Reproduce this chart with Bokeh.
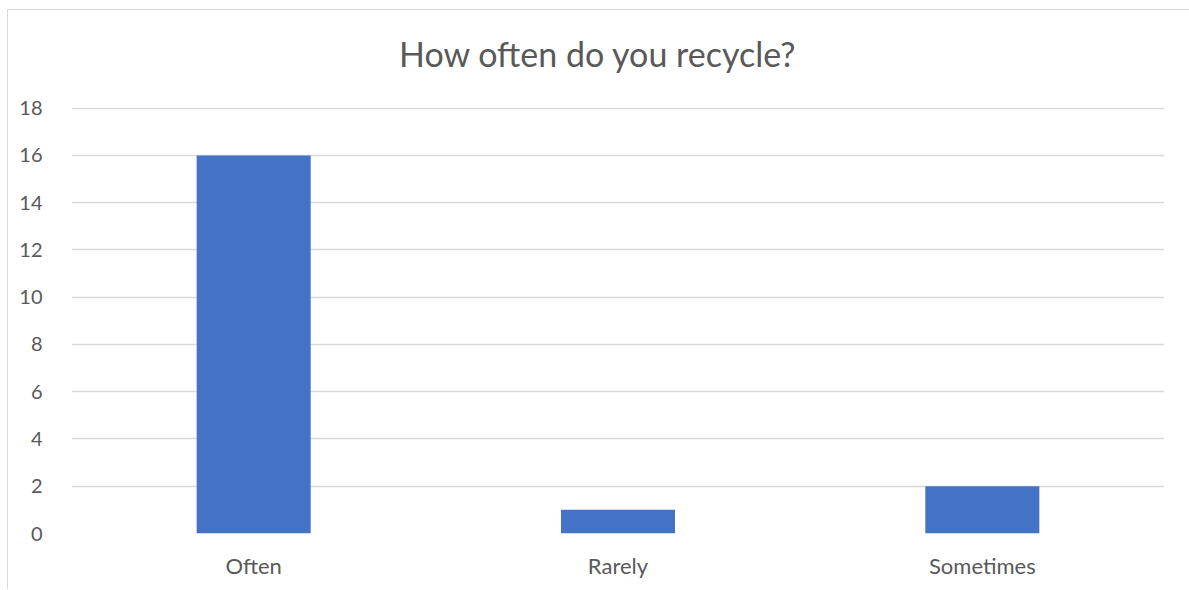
from bokeh.plotting import figure
from bokeh.models import FactorRange, Range1d, FixedTicker, Div
from bokeh.layouts import column
from bokeh.embed import file_html
from bokeh.resources import INLINE

categories = ["Often", "Rarely", "Sometimes"]
counts = [16, 1, 2]
y_ticks = [0, 2, 4, 6, 8, 10, 12, 14, 16, 18]
title_text = "How often do you recycle?"

FONT = "Lato"
TEXT = "#595959"
GRID = "#d9d9d9"

title = Div(text=title_text, width=1180, height=76,
            styles={"font-family": FONT, "font-size": "34px", "color": TEXT,
                    "line-height": "40px", "padding-top": "19px", "padding-left": "386px",
                    "box-sizing": "border-box", "white-space": "nowrap"})

p = figure(width=1180, height=493, output_backend="svg", toolbar_location=None,
           x_range=FactorRange(*categories, range_padding=0),
           y_range=Range1d(0, 18.03),
           min_border_left=63, min_border_right=24, min_border_top=11, min_border_bottom=56)

p.vbar(x=categories, top=counts, width=0.313, color="#4472C4", line_color=None)

p.outline_line_color = None
p.xgrid.grid_line_color = None
p.ygrid.grid_line_color = GRID
p.ygrid.grid_line_width = 1.3
p.yaxis.ticker = FixedTicker(ticks=y_ticks)

for ax in (p.xaxis[0], p.yaxis[0]):
    ax.axis_line_color = None
    ax.major_tick_line_color = None
    ax.minor_tick_line_color = None
    ax.major_label_text_font = FONT
    ax.major_label_text_color = TEXT
p.xaxis.major_label_text_font_size = "22px"
p.yaxis.major_label_text_font_size = "20px"
p.xaxis.major_label_standoff = 12
p.yaxis.major_label_standoff = 23

page = column(title, p, spacing=0)
page.styles = {"border-left": f"1px solid {GRID}", "border-top": f"1px solid {GRID}",
               "border-right": f"1px solid {GRID}", "margin-left": "7px", "margin-top": "9px"}

open("out.html", "w").write(file_html(page, INLINE))
